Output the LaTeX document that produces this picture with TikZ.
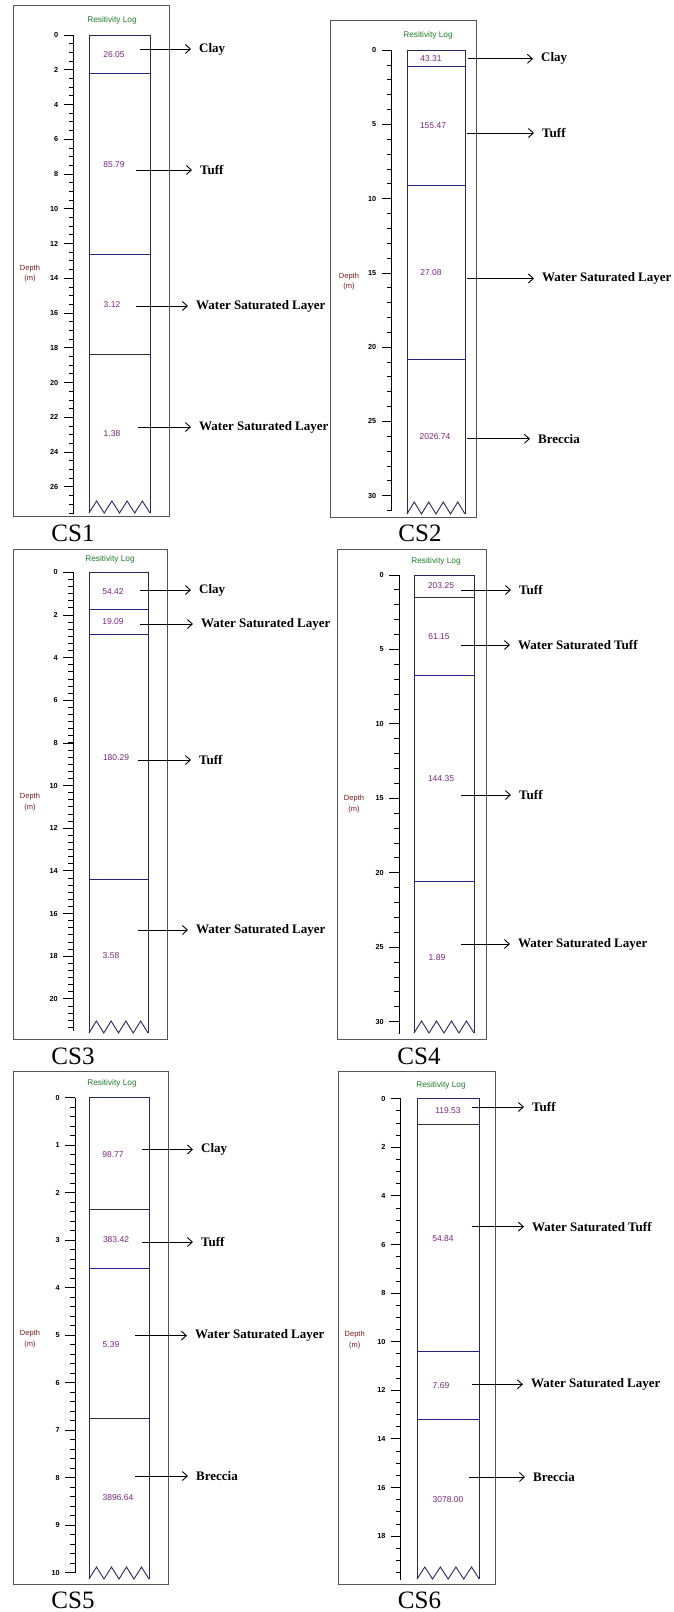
\documentclass[tikz,border=0pt]{standalone}
\usepackage{fontspec}
\setmainfont{Liberation Serif}
\setsansfont{Liberation Sans}
\usetikzlibrary{arrows.meta}
\definecolor{framec}{RGB}{85,85,85}
\definecolor{colc}{RGB}{40,40,95}
\definecolor{navyc}{RGB}{35,35,135}
\definecolor{darkc}{RGB}{50,50,60}
\definecolor{greenc}{RGB}{30,125,40}
\definecolor{purplec}{RGB}{125,35,125}
\definecolor{redc}{RGB}{125,25,25}
% spine x, y0, px per m, end depth, major step, last major, minor step
\newcommand{\daxis}[7]{%
  \draw[tickl] (#1,#2) -- (#1,{#2+#4*#3});
  \foreach \mydep in {0,#5,...,#6} {
    \draw[tickl] (#1-10,{#2+\mydep*#3}) -- (#1,{#2+\mydep*#3});
    \node[tnum] at (#1-15,{#2+\mydep*#3}) {\mydep};
  }
  \pgfmathsetmacro\nmin{int(floor(#4/#7+0.001))}
  \foreach \i in {0,...,\nmin} {
    \draw[tickl] (#1-5,{#2+\i*#7*#3}) -- (#1,{#2+\i*#7*#3});
  }
}
% column: L, R, T, B
\newcommand{\logcol}[4]{%
  \draw[colline] (#1,#4) -- (#1,#3) -- (#2,#3) -- (#2,#4);
  \draw[colline] (#1,#4) \foreach \k in {1,...,4} { -- ++({(#2-#1)/8},-12) -- ++({(#2-#1)/8},12) };
}
\begin{document}
\begin{tikzpicture}[x=1pt,y=-1pt,
  framebox/.style={draw=framec,line width=1pt},
  colline/.style={draw=colc,line width=0.9pt},
  bnav/.style={draw=navyc,line width=1pt},
  bdark/.style={draw=darkc,line width=0.9pt},
  tickl/.style={draw=black,line width=0.9pt},
  reslog/.style={font=\sffamily\fontsize{8.3}{9}\selectfont,text=greenc,inner sep=0},
  valtxt/.style={font=\sffamily\fontsize{8.5}{10}\selectfont,text=purplec,inner sep=0},
  lbl/.style={font=\bfseries\fontsize{13}{15}\selectfont,anchor=west,inner xsep=8pt,inner ysep=0},
  arr/.style={-{Straight Barb[length=5pt,width=9pt]},line width=0.9pt},
  captxt/.style={font=\fontsize{25}{28}\selectfont,inner sep=0},
  deptxt/.style={font=\sffamily\fontsize{7.5}{10.5}\selectfont,text=redc,inner sep=0,align=center},
  tnum/.style={font=\sffamily\bfseries\fontsize{7.3}{8}\selectfont,anchor=east,inner sep=0},
]
\useasboundingbox (0,0) rectangle (674,1612);

% ================= CS1 =================
\draw[framebox] (13,5.5) rectangle (169,516);
\node[reslog] (r1) at (112,20) {Resitivity Log};
\daxis{73.5}{35}{17.38}{27.5}{2}{26}{0.5}
\draw[bnav] (89,73.5) -- (150,73.5);
\draw[bnav] (89,254) -- (150,254);
\draw[bdark] (89,354) -- (150,354);
\logcol{89}{150}{35}{513}
\node[valtxt] (v11) at (114,54.7) {26.05};
\node[valtxt] (v12) at (114,165) {85.79};
\node[valtxt] (v13) at (112,305) {3.12};
\node[valtxt] (v14) at (112,434) {1.38};
\coordinate (a11) at (140,49);
\coordinate (a12) at (136,170);
\coordinate (a13) at (136,306);
\coordinate (a14) at (138,427);
\node[lbl] (l11) at (191,49) {Clay};
\node[lbl] (l12) at (192,170) {Tuff};
\node[lbl] (l13) at (188,306) {Water Saturated Layer};
\node[lbl] (l14) at (191,427) {Water Saturated Layer};
\draw[arr] (a11) -- (l11); \draw[arr] (a12) -- (l12);
\draw[arr] (a13) -- (l13); \draw[arr] (a14) -- (l14);
\node[deptxt] (d1) at (30,273.5) {Depth\\(m)};
\node[captxt] (c1) at (73,533) {CS1};

% ================= CS2 =================
\draw[framebox] (330,20.8) rectangle (476,517);
\node[reslog] (r2) at (428,35.3) {Resitivity Log};
\daxis{391.5}{50.2}{14.85}{31}{5}{30}{1}
\draw[bnav] (407,66.8) -- (465,66.8);
\draw[bnav] (407,185.5) -- (465,185.5);
\draw[bnav] (407,359.2) -- (465,359.2);
\logcol{407}{465}{50.2}{514}
\node[valtxt] (v21) at (431,58.8) {43.31};
\node[valtxt] (v22) at (433,126) {155.47};
\node[valtxt] (v23) at (431,273) {27.08};
\node[valtxt] (v24) at (435,436.7) {2026.74};
\coordinate (a21) at (468,58.8);
\coordinate (a22) at (467,133);
\coordinate (a23) at (467,278.5);
\coordinate (a24) at (467,438.8);
\node[lbl] (l21) at (533,58.8) {Clay};
\node[lbl] (l22) at (534,133) {Tuff};
\node[lbl] (l23) at (534,278.5) {Water Saturated Layer};
\node[lbl] (l24) at (530,438.8) {Breccia};
\draw[arr] (a21) -- (l21); \draw[arr] (a22) -- (l22);
\draw[arr] (a23) -- (l23); \draw[arr] (a24) -- (l24);
\node[deptxt] (d2) at (349,281.4) {Depth\\(m)};
\node[captxt] (c2) at (420,533) {CS2};

% ================= CS3 =================
\draw[framebox] (13,549) rectangle (167,1039);
\node[reslog] (r3) at (110,559) {Resitivity Log};
\daxis{73}{572.3}{21.33}{21.5}{2}{20}{0.33333}
\draw[bnav] (89,609.3) -- (148,609.3);
\draw[bnav] (89,634) -- (148,634);
\draw[bnav] (89,879.3) -- (148,879.3);
\logcol{89}{148}{572.3}{1033}
\node[valtxt] (v31) at (113,592) {54.42};
\node[valtxt] (v32) at (113,622) {19.09};
\node[valtxt] (v33) at (116,758) {180.29};
\node[valtxt] (v34) at (111,956) {3.58};
\coordinate (a31) at (140,590);
\coordinate (a32) at (140,624);
\coordinate (a33) at (138,760);
\coordinate (a34) at (138,930);
\node[lbl] (l31) at (191,590) {Clay};
\node[lbl] (l32) at (193,624) {Water Saturated Layer};
\node[lbl] (l33) at (191,760) {Tuff};
\node[lbl] (l34) at (188,930) {Water Saturated Layer};
\draw[arr] (a31) -- (l31); \draw[arr] (a32) -- (l32);
\draw[arr] (a33) -- (l33); \draw[arr] (a34) -- (l34);
\node[deptxt] (d3) at (30,802) {Depth\\(m)};
\node[captxt] (c3) at (73,1056) {CS3};

% ================= CS4 =================
\draw[framebox] (337,549) rectangle (486,1039);
\node[reslog] (r4) at (436,561) {Resitivity Log};
\daxis{399}{575}{14.89}{30.8}{5}{30}{1}
\draw[bdark] (414,597) -- (474,597);
\draw[bnav] (414,675.7) -- (474,675.7);
\draw[bnav] (414,881) -- (474,881);
\logcol{414}{474}{575}{1033}
\node[valtxt] (v41) at (441,586) {203.25};
\node[valtxt] (v42) at (439,637) {61.15};
\node[valtxt] (v43) at (441,779) {144.35};
\node[valtxt] (v44) at (437,958) {1.89};
\coordinate (a41) at (461,590);
\coordinate (a42) at (461,645);
\coordinate (a43) at (461,795);
\coordinate (a44) at (461,944);
\node[lbl] (l41) at (511,590) {Tuff};
\node[lbl] (l42) at (510,645) {Water Saturated Tuff};
\node[lbl] (l43) at (511,795) {Tuff};
\node[lbl] (l44) at (510,944) {Water Saturated Layer};
\draw[arr] (a41) -- (l41); \draw[arr] (a42) -- (l42);
\draw[arr] (a43) -- (l43); \draw[arr] (a44) -- (l44);
\node[deptxt] (d4) at (354,804) {Depth\\(m)};
\node[captxt] (c4) at (419,1056) {CS4};

% ================= CS5 =================
\draw[framebox] (13,1071) rectangle (168,1584);
\node[reslog] (r5) at (112,1083) {Resitivity Log};
\daxis{75}{1097.7}{47.5}{10}{1}{10}{0.2}
\draw[bdark] (89,1209.9) -- (149,1209.9);
\draw[bnav] (89,1268) -- (149,1268);
\draw[bdark] (89,1418.3) -- (149,1418.3);
\logcol{89}{149}{1097.7}{1579}
\node[valtxt] (v51) at (113,1155) {98.77};
\node[valtxt] (v52) at (116,1239.7) {383.42};
\node[valtxt] (v53) at (111,1345) {5.39};
\node[valtxt] (v54) at (118,1498) {3896.64};
\coordinate (a51) at (142,1149.5);
\coordinate (a52) at (142,1242);
\coordinate (a53) at (135,1335.6);
\coordinate (a54) at (135,1476);
\node[lbl] (l51) at (193,1149.5) {Clay};
\node[lbl] (l52) at (193,1242) {Tuff};
\node[lbl] (l53) at (187,1335.6) {Water Saturated Layer};
\node[lbl] (l54) at (188,1476) {Breccia};
\draw[arr] (a51) -- (l51); \draw[arr] (a52) -- (l52);
\draw[arr] (a53) -- (l53); \draw[arr] (a54) -- (l54);
\node[deptxt] (d5) at (30,1339) {Depth\\(m)};
\node[captxt] (c5) at (73,1600) {CS5};

% ================= CS6 =================
\draw[framebox] (338,1071) rectangle (495,1584);
\node[reslog] (r6) at (441,1085) {Resitivity Log};
\daxis{400.7}{1098.7}{24.3}{19.8}{2}{18}{0.5}
\draw[bdark] (417,1124.3) -- (479.3,1124.3);
\draw[bnav] (417,1351.6) -- (479.3,1351.6);
\draw[bnav] (417,1419.3) -- (479.3,1419.3);
\logcol{417}{479.3}{1098.7}{1579}
\node[valtxt] (v61) at (448,1110.7) {119.53};
\node[valtxt] (v62) at (443,1239) {54.84};
\node[valtxt] (v63) at (441,1385.7) {7.69};
\node[valtxt] (v64) at (448,1499.3) {3078.00};
\coordinate (a61) at (471.7,1107);
\coordinate (a62) at (472,1226.6);
\coordinate (a63) at (472,1384.3);
\coordinate (a64) at (469,1477);
\node[lbl] (l61) at (524,1107) {Tuff};
\node[lbl] (l62) at (524,1226.6) {Water Saturated Tuff};
\node[lbl] (l63) at (523,1384.3) {Water Saturated Layer};
\node[lbl] (l64) at (525,1477) {Breccia};
\draw[arr] (a61) -- (l61); \draw[arr] (a62) -- (l62);
\draw[arr] (a63) -- (l63); \draw[arr] (a64) -- (l64);
\node[deptxt] (d6) at (354.7,1340) {Depth\\(m)};
\node[captxt] (c6) at (419.5,1600) {CS6};
\end{tikzpicture}
\end{document}
